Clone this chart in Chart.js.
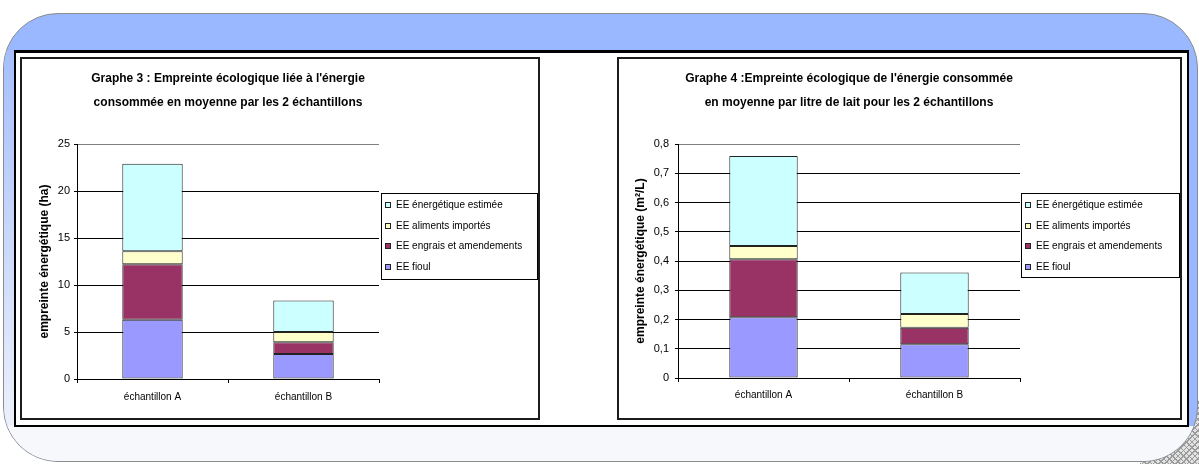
<!DOCTYPE html>
<html>
<head>
<meta charset="utf-8">
<script src="https://cdn.jsdelivr.net/npm/chart.js@4/dist/chart.umd.min.js"></script>
<style>
  body { margin: 0; width: 1199px; height: 464px; background: #fff; position: relative; overflow: hidden; }
  #hatch { position: absolute; left: 1140px; top: 400px; width: 59px; height: 64px;
    background: repeating-linear-gradient(45deg, #9a9a9a 0 1px, transparent 1px 4px),
                repeating-linear-gradient(-45deg, #9a9a9a 0 1px, #e2e2e2 1px 4px); }
  #frame { position: absolute; left: 3px; top: 13px; width: 1195px; height: 449px; box-sizing: border-box;
    border: 1.5px solid #8c8c8c; border-radius: 55px; background: #99b8ff; overflow: hidden; }
  #side { position: absolute; left: 0; top: 36px; width: 10px; height: 378px;
    background: linear-gradient(#a6bffc, #eef1fb); }
  #foot { position: absolute; left: 0; right: 0; top: 412px; bottom: 0; background: #f7f8fc; }
  #inner { position: absolute; left: 14px; top: 50px; width: 1175px; height: 377px; box-sizing: border-box;
    border: 2px solid #000; border-top-width: 3px; background: #fff; }
  .panel { position: absolute; top: 57px; height: 363px; box-sizing: border-box; border: 2px solid #1c1c1c; background: #fff; }
  #p1 { left: 20px; width: 520px; }
  #p2 { left: 617px; width: 565px; }
  canvas { display: block; }
</style>
</head>
<body>
<div id="hatch"></div>
<div id="frame"><div id="side"></div><div id="foot"></div></div>
<div id="inner"></div>
<div class="panel" id="p1"><canvas id="graphe3" width="516" height="359"></canvas></div>
<div class="panel" id="p2"><canvas id="graphe4" width="561" height="359"></canvas></div>
<script>
const categories = ['échantillon A', 'échantillon B'];
const seriesLabels = ['EE fioul', 'EE engrais et amendements', 'EE aliments importés', 'EE énergétique estimée'];
const seriesColors = ['#9999ff', '#993366', '#ffffcc', '#ccffff'];

// Graphe 3 : hectares
const fioulHa = [6.3, 2.65];
const engraisHa = [5.9, 1.25];
const alimentsHa = [1.4, 1.1];
const energetiqueHa = [9.3, 3.35];
const ticksHa = [0, 5, 10, 15, 20, 25];

// Graphe 4 : m2 par litre
const fioulL = [0.208, 0.115];
const engraisL = [0.198, 0.057];
const alimentsL = [0.045, 0.047];
const energetiqueL = [0.308, 0.142];
const ticksL = [0, 0.1, 0.2, 0.3, 0.4, 0.5, 0.6, 0.7, 0.8];

Chart.defaults.font.family = '"Liberation Sans", Arial, sans-serif';
Chart.defaults.color = '#000';

// legend with a box around it, drawn right of the plot
const boxedLegend = {
    id: 'boxedLegend',
    afterDraw(chart, args, opts) {
        const ctx = chart.ctx;
        const x = Math.round(chart.chartArea.right + opts.gap);
        const w = chart.width - x - 1;
        ctx.save();
        ctx.strokeStyle = '#000';
        ctx.lineWidth = 1;
        ctx.strokeRect(x + 0.5, opts.top + 0.5, w, opts.height);
        ctx.font = '10px "Liberation Sans", Arial, sans-serif';
        ctx.textBaseline = 'middle';
        const sets = chart.data.datasets.slice().reverse();
        sets.forEach((ds, i) => {
            const cy = Math.round(opts.top + 12 + i * 20.7);
            ctx.fillStyle = ds.backgroundColor;
            ctx.fillRect(x + 4, cy - 3, 5, 5);
            ctx.strokeStyle = '#222';
            ctx.strokeRect(x + 4.5, cy - 2.5, 5, 5);
            ctx.fillStyle = '#000';
            ctx.fillText(ds.label, x + 15, cy + 0.5);
        });
        ctx.restore();
    }
};

function stack(values) {
    return values.map((v, i) => ({
        label: seriesLabels[i],
        data: v,
        backgroundColor: seriesColors[i],
        borderColor: '#222',
        borderWidth: 1,
        borderSkipped: false,
        barPercentage: 0.4,
        categoryPercentage: 1
    }));
}

function frenchNum(v) {
    return String(v).replace('.', ',');
}

// Graphe 3
new Chart(document.getElementById('graphe3').getContext('2d'), {
    type: 'bar',
    data: {
        labels: categories,
        datasets: stack([fioulHa, engraisHa, alimentsHa, energetiqueHa])
    },
    options: {
        responsive: false,
        animation: false,
        layout: { padding: { left: 0, right: 159, top: 0, bottom: 0 } },
        plugins: {
            legend: { display: false },
            tooltip: { enabled: false },
            title: {
                display: true,
                fullSize: false,
                text: ["Graphe 3 : Empreinte écologique liée à l'énergie", 'consommée en moyenne par les 2 échantillons'],
                font: { size: 12, weight: 'bold', lineHeight: 2 },
                color: '#000',
                padding: { top: 8, bottom: 29 }
            },
            boxedLegend: { gap: 2, top: 134, height: 86 }
        },
        scales: {
            x: {
                stacked: true,
                grid: {
                    offset: true,
                    color: c => c.index === categories.length ? '#808080' : 'rgba(0,0,0,0)',
                    tickColor: '#000',
                    tickLength: 4
                },
                border: { color: '#000' },
                ticks: { color: '#000', font: { size: 10 }, padding: 8 },
                afterFit: s => { s.height = 39; }
            },
            y: {
                stacked: true,
                min: 0,
                max: 25,
                afterBuildTicks: s => { s.ticks = ticksHa.map(v => ({ value: v })); },
                grid: {
                    color: c => c.tick && c.tick.value === 25 ? '#808080' : '#000',
                    tickColor: '#000',
                    tickLength: 3
                },
                border: { color: '#000' },
                ticks: { color: '#000', font: { size: 11 }, padding: 4, callback: frenchNum },
                title: {
                    display: true,
                    text: 'empreinte énergétique (ha)',
                    color: '#000',
                    font: { size: 12, weight: 'bold' },
                    padding: { top: 15, bottom: 0 }
                },
                afterFit: s => { s.width = 55; }
            }
        }
    },
    plugins: [boxedLegend]
});

// Graphe 4
new Chart(document.getElementById('graphe4').getContext('2d'), {
    type: 'bar',
    data: {
        labels: categories,
        datasets: stack([fioulL, engraisL, alimentsL, energetiqueL])
    },
    options: {
        responsive: false,
        animation: false,
        layout: { padding: { left: 0, right: 160, top: 0, bottom: 0 } },
        plugins: {
            legend: { display: false },
            tooltip: { enabled: false },
            title: {
                display: true,
                fullSize: false,
                text: ["Graphe 4 :Empreinte écologique de l'énergie consommée", 'en moyenne par litre de lait pour les 2 échantillons'],
                font: { size: 12, weight: 'bold', lineHeight: 2 },
                color: '#000',
                padding: { top: 8, bottom: 29 }
            },
            boxedLegend: { gap: 1, top: 134, height: 84 }
        },
        scales: {
            x: {
                stacked: true,
                grid: {
                    offset: true,
                    color: c => c.index === categories.length ? '#808080' : 'rgba(0,0,0,0)',
                    tickColor: '#000',
                    tickLength: 4
                },
                border: { color: '#000' },
                ticks: { color: '#000', font: { size: 10 }, padding: 7 },
                afterFit: s => { s.height = 40; }
            },
            y: {
                stacked: true,
                min: 0,
                max: 0.8,
                afterBuildTicks: s => { s.ticks = ticksL.map(v => ({ value: v })); },
                grid: {
                    color: c => c.tick && c.tick.value === 0.8 ? '#808080' : '#000',
                    tickColor: '#000',
                    tickLength: 3
                },
                border: { color: '#000' },
                ticks: { color: '#000', font: { size: 11 }, padding: 6, callback: frenchNum },
                title: {
                    display: true,
                    text: 'empreinte énergétique (m²/L)',
                    color: '#000',
                    font: { size: 12, weight: 'bold' },
                    padding: { top: 14, bottom: 0 }
                },
                afterFit: s => { s.width = 59; }
            }
        }
    },
    plugins: [boxedLegend]
});
</script>
</body>
</html>
